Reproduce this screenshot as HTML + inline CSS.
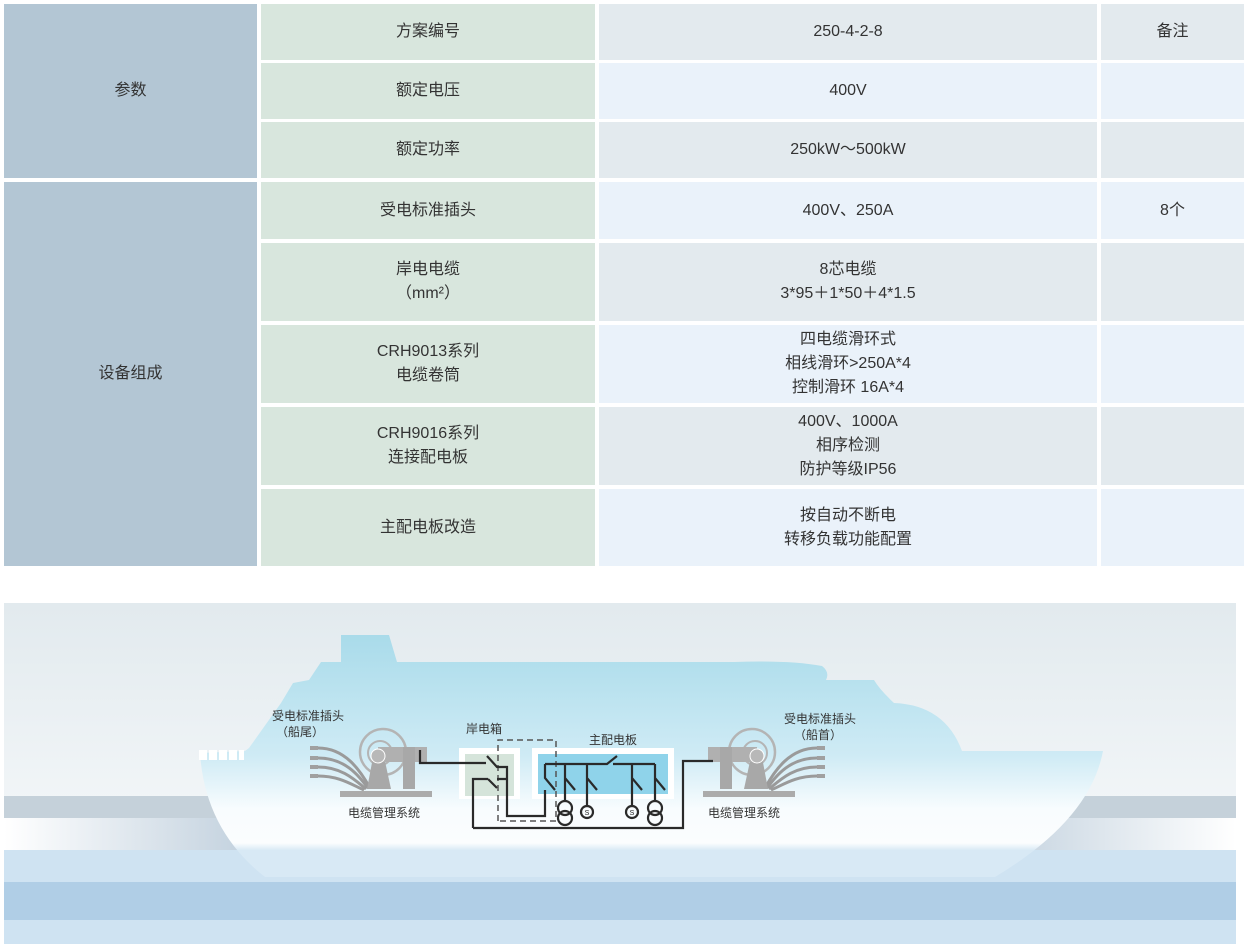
<!DOCTYPE html>
<html><head><meta charset="utf-8"><style>
body{margin:0;width:1248px;height:946px;background:#fff;font-family:"Liberation Sans","Noto Sans CJK SC",sans-serif;color:#333;position:relative;overflow:hidden}
.c{position:absolute;display:flex;align-items:center;justify-content:center;text-align:center;font-size:16px;line-height:24px}
.a{background:#b3c6d4}.b{background:#d8e6dd}.g{background:#e3eaee}.l{background:#eaf2fa}
</style></head><body>
<div class="c a" style="left:4px;top:4px;width:253px;height:174px">参数</div>
<div class="c a" style="left:4px;top:182px;width:253px;height:384px">设备组成</div>

<div class="c b" style="left:261px;top:4px;width:334px;height:56px">方案编号</div>
<div class="c g" style="left:599px;top:4px;width:498px;height:56px">250-4-2-8</div>
<div class="c g" style="left:1101px;top:4px;width:143px;height:56px">备注</div>

<div class="c b" style="left:261px;top:63px;width:334px;height:56px">额定电压</div>
<div class="c l" style="left:599px;top:63px;width:498px;height:56px">400V</div>
<div class="c l" style="left:1101px;top:63px;width:143px;height:56px"></div>

<div class="c b" style="left:261px;top:122px;width:334px;height:56px">额定功率</div>
<div class="c g" style="left:599px;top:122px;width:498px;height:56px">250kW～500kW</div>
<div class="c g" style="left:1101px;top:122px;width:143px;height:56px"></div>

<div class="c b" style="left:261px;top:182px;width:334px;height:57px">受电标准插头</div>
<div class="c l" style="left:599px;top:182px;width:498px;height:57px">400V、250A</div>
<div class="c l" style="left:1101px;top:182px;width:143px;height:57px">8个</div>

<div class="c b" style="left:261px;top:243px;width:334px;height:78px">岸电电缆<br>（mm²）</div>
<div class="c g" style="left:599px;top:243px;width:498px;height:78px">8芯电缆<br>3*95＋1*50＋4*1.5</div>
<div class="c g" style="left:1101px;top:243px;width:143px;height:78px"></div>

<div class="c b" style="left:261px;top:325px;width:334px;height:78px">CRH9013系列<br>电缆卷筒</div>
<div class="c l" style="left:599px;top:325px;width:498px;height:78px">四电缆滑环式<br>相线滑环&gt;250A*4<br>控制滑环 16A*4</div>
<div class="c l" style="left:1101px;top:325px;width:143px;height:78px"></div>

<div class="c b" style="left:261px;top:407px;width:334px;height:78px">CRH9016系列<br>连接配电板</div>
<div class="c g" style="left:599px;top:407px;width:498px;height:78px">400V、1000A<br>相序检测<br>防护等级IP56</div>
<div class="c g" style="left:1101px;top:407px;width:143px;height:78px"></div>

<div class="c b" style="left:261px;top:489px;width:334px;height:77px">主配电板改造</div>
<div class="c l" style="left:599px;top:489px;width:498px;height:77px">按自动不断电<br>转移负载功能配置</div>
<div class="c l" style="left:1101px;top:489px;width:143px;height:77px"></div>

<svg style="position:absolute;left:0;top:0" width="1248" height="946" font-family="Liberation Sans, Noto Sans CJK SC, sans-serif" font-size="12" fill="#333">
<defs>
<linearGradient id="sky" x1="0" y1="0" x2="0" y2="1"><stop offset="0" stop-color="#e2eaee"/><stop offset="1" stop-color="#fcfdfe"/></linearGradient>
<linearGradient id="hull" x1="0" y1="635" x2="0" y2="877" gradientUnits="userSpaceOnUse"><stop offset="0" stop-color="#a9dbea"/><stop offset="0.5" stop-color="#cfebf5"/><stop offset="0.72" stop-color="#f8fcfe"/><stop offset="0.86" stop-color="#fbfdfe"/><stop offset="0.89" stop-color="#d8e9f5"/><stop offset="1" stop-color="#d8e9f5"/></linearGradient>
<linearGradient id="wl" x1="0" y1="0" x2="1" y2="0"><stop offset="0" stop-color="#fff"/><stop offset="0.2" stop-color="#c2d1de"/><stop offset="0.8" stop-color="#c2d1de"/><stop offset="1" stop-color="#fff"/></linearGradient>
</defs>
<rect x="4" y="603" width="1232" height="341" fill="url(#sky)"/>
<rect x="4" y="796" width="1232" height="22" fill="#c5d1da"/>
<rect x="4" y="818" width="1232" height="32" fill="url(#wl)"/>
<rect x="4" y="850" width="1232" height="94" fill="#cfe3f2"/>
<rect x="4" y="882" width="1232" height="38" fill="#b0cee6"/>
<path d="M200,753 L245,751 L249,748 L281,703 L293,683 L309,680 L321,662 L341,662 L341,635 L389,635 L397,662 L734,662 Q790,660 822,666 Q830,672 826,680 L874,680 Q880,690 894,703 Q945,705 962,751 L1103,751 Q1090,820 995,877 L265,877 Q205,830 200,753 Z" fill="url(#hull)"/>
<g fill="#fff"><rect x="199" y="750" width="8" height="10"/><rect x="209" y="750" width="8" height="10"/><rect x="219" y="750" width="8" height="10"/><rect x="229" y="750" width="8" height="10"/><rect x="239" y="750" width="5" height="10"/></g>
<g id="reel">
<circle cx="383" cy="752" r="23" fill="none" stroke="#b4b4b4" stroke-width="2.5"/>
<circle cx="380" cy="753" r="12" fill="none" stroke="#b4b4b4" stroke-width="2"/>
<g fill="none" stroke="#9a9a9a" stroke-width="3"><path d="M318,748 C345,748 360,770 370,788"/><path d="M318,758 C345,758 358,775 368,788"/><path d="M318,767 C342,767 355,780 366,789"/><path d="M318,776 C340,776 352,785 364,790"/></g>
<g fill="#a0a0a0"><rect x="310" y="746" width="8" height="4"/><rect x="310" y="756" width="8" height="4"/><rect x="310" y="765" width="8" height="4"/><rect x="310" y="774" width="8" height="4"/></g>
<path d="M374,752 L367,789 L391,789 L383,752Z" fill="#a8a8a8"/>
<rect x="378" y="747" width="49" height="15" fill="#b0b0b0"/>
<rect x="403" y="747" width="12" height="42" fill="#a8a8a8"/>
<circle cx="378" cy="756" r="7" fill="#b8b8b8" stroke="#fff" stroke-width="1"/>
<rect x="340" y="791" width="92" height="6" fill="#ababab"/>
</g>
<use href="#reel" transform="translate(1135,0) scale(-1,1)"/>
<text x="308" y="720" text-anchor="middle">受电标准插头</text>
<text x="300" y="736" text-anchor="middle">（船尾）</text>
<text x="384" y="817" text-anchor="middle">电缆管理系统</text>
<text x="820" y="723" text-anchor="middle">受电标准插头</text>
<text x="818" y="739" text-anchor="middle">（船首）</text>
<text x="744" y="817" text-anchor="middle">电缆管理系统</text>
<text x="484" y="733" text-anchor="middle">岸电箱</text>
<text x="613" y="744" text-anchor="middle">主配电板</text>
<rect x="459" y="748" width="61" height="51" fill="#fff"/>
<rect x="465" y="754" width="49" height="42" fill="#d5e4da"/>
<rect x="532" y="748" width="142" height="51" fill="#fff"/>
<rect x="538" y="754" width="130" height="40" fill="#8fd3ea"/>
<g fill="none" stroke="#555" stroke-width="1.5" stroke-dasharray="6,4"><path d="M498,821 L498,740 L556,740 L556,821 L498,821"/></g>
<g fill="none" stroke="#2a2a2a" stroke-width="2.2">
<path d="M420,750 L420,763 L486,763 M487,756 L497,767 L507,767 L507,816 L545,816 L545,790"/>
<path d="M473,828 L473,779 L488,779 M488,779 L497,788 M497,779 L507,779"/>
<path d="M473,828 L683,828 L683,761 L713,761"/>
<path d="M545,764 L607,764 L617,756 M613,764 L655,764"/>
<path d="M545,764 L545,778 L555,790"/>
<path d="M565,764 L565,778 L575,790 M565,778 L565,801"/>
<path d="M587,764 L587,778 L597,790 M587,778 L587,806"/>
<path d="M632,764 L632,778 L642,790 M632,778 L632,806"/>
<path d="M655,764 L655,778 L665,790 M655,778 L655,801"/>
<circle cx="565" cy="808" r="7"/><circle cx="565" cy="818" r="7"/>
<circle cx="655" cy="808" r="7"/><circle cx="655" cy="818" r="7"/>
<circle cx="587" cy="812" r="6"/><circle cx="632" cy="812" r="6"/>
</g>
<g font-size="7" text-anchor="middle" fill="#222"><text x="587" y="815">S</text><text x="632" y="815">S</text></g>
</svg>
</body></html>
